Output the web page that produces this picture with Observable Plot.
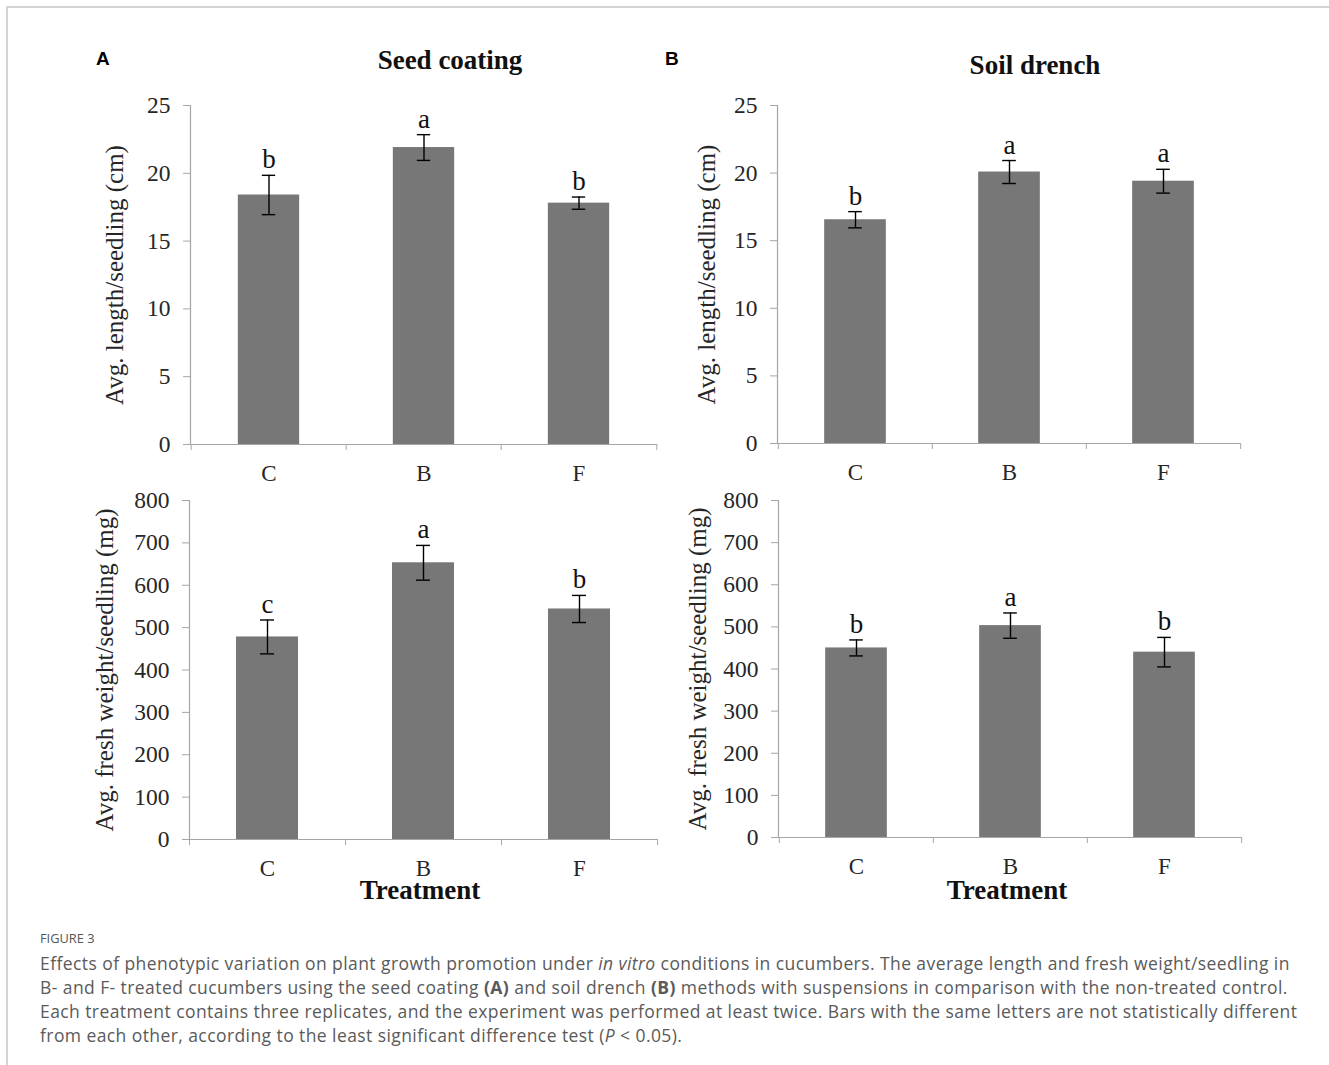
<!DOCTYPE html>
<html>
<head>
<meta charset="utf-8">
<script src="https://cdn.jsdelivr.net/npm/d3@7"></script>
<script src="https://cdn.jsdelivr.net/npm/@observablehq/plot@0.6"></script>
<style>
  html, body { margin: 0; padding: 0; background: #fff; }
  #page { position: relative; width: 1329px; height: 1065px; overflow: hidden; background: #fff; }
  .frame { position: absolute; left: 6px; top: 6px; right: -10px; bottom: -10px; border-top: 2px solid #d4d4d4; border-left: 2px solid #d4d4d4; }
  .panel { position: absolute; }
  .title { position: absolute; font-family: "Liberation Serif", serif; font-weight: bold; font-size: 27px; color: #111; transform: translateX(-50%); white-space: nowrap; }
  .xtitle { line-height: 27px; }
  .letter { position: absolute; font-family: "Liberation Sans", Arial, sans-serif; font-weight: bold; font-size: 19px; color: #000; }
  .figlabel { position: absolute; left: 40px; top: 929px; font-family: "Open Sans", sans-serif; font-size: 12.8px; color: #555; }
  .caption { position: absolute; left: 40px; top: 951px; font-family: "Open Sans", sans-serif; font-size: 17.5px; letter-spacing: 0.42px; line-height: 24px; color: #5a5a5a; white-space: nowrap; }
</style>
</head>
<body>
<div id="page">
  <div class="frame"></div>
  <div class="letter" style="left:96px; top:48px;">A</div>
  <div class="letter" style="left:665px; top:48px;">B</div>
  <div class="title" style="left:450px; top:45px;">Seed coating</div>
  <div class="title" style="left:1035px; top:50px;">Soil drench</div>
  <div class="title xtitle" style="left:420px; top:877px;">Treatment</div>
  <div class="title xtitle" style="left:1007px; top:877px;">Treatment</div>
  <div class="figlabel">FIGURE 3</div>
  <div class="caption">Effects of phenotypic variation on plant growth promotion under <i>in vitro</i> conditions in cucumbers. The average length and fresh weight/seedling in<br>B- and F- treated cucumbers using the seed coating <b>(A)</b> and soil drench <b>(B)</b> methods with suspensions in comparison with the non-treated control.<br>Each treatment contains three replicates, and the experiment was performed at least twice. Bars with the same letters are not statistically different<br>from each other, according to the least significant difference test (<i>P</i> &lt; 0.05).</div>
</div>
<script>
// ---- Data ----
const categories = ["C", "B", "F"];

const seedLength = [18.4, 21.9, 17.8];
const seedLengthErr = [1.45, 0.95, 0.45];
const seedLengthLetters = ["b", "a", "b"];

const seedWeight = [478, 653, 544];
const seedWeightErr = [40, 41, 32];
const seedWeightLetters = ["c", "a", "b"];

const soilLength = [16.55, 20.08, 19.4];
const soilLengthErr = [0.6, 0.85, 0.88];
const soilLengthLetters = ["b", "a", "a"];

const soilWeight = [450, 503, 440];
const soilWeightErr = [19, 30, 35];
const soilWeightLetters = ["b", "a", "b"];

const lengthTicks = [0, 5, 10, 15, 20, 25];
const weightTicks = [0, 100, 200, 300, 400, 500, 600, 700, 800];

const lengthLabel = "Avg. length/seedling (cm)";
const weightLabel = "Avg. fresh weight/seedling (mg)";

// ---- Styles ----
const axisColor = "#a6a6a6";
const textColor = "#262626";
const barColor = "#777777";
const serif = "'Liberation Serif', 'Times New Roman', serif";

function panel({values, errors, letters, ticks, label, left, top, width, height, margins, labelDx}) {
  const [mt, mr, mb, ml] = margins;
  const data = categories.map((c, i) => ({cat: c, v: values[i], e: errors[i], letter: letters[i]}));
  const bw = (width - ml - mr) / categories.length;
  const barInset = (bw - 62) / 2;
  const capInset = (bw - 14) / 2;
  const chart = Plot.plot({
    width, height,
    marginTop: mt, marginRight: mr, marginBottom: mb, marginLeft: ml,
    style: {fontFamily: serif, background: "transparent", color: textColor, overflow: "visible"},
    x: {type: "band", domain: categories, paddingInner: 0, paddingOuter: 0, axis: null},
    y: {domain: [ticks[0], ticks[ticks.length - 1]], axis: null},
    marks: [
      Plot.barY(data, {x: "cat", y: "v", fill: barColor, insetLeft: barInset, insetRight: barInset}),
      Plot.ruleY([ticks[0]], {stroke: axisColor, strokeWidth: 1.2}),
      Plot.frame({anchor: "left", stroke: axisColor, strokeWidth: 1.2}),
      Plot.axisY({ticks, tickSize: 7, tickPadding: 13, fontSize: 23.5, stroke: axisColor, fill: textColor, label: null, tickFormat: d => String(d)}),
      Plot.axisX({tickSize: 0, tickPadding: 20, fontSize: 23, fill: textColor, label: null}),
      Plot.axisX({tickSize: 6, dx: -bw / 2, text: null, stroke: axisColor, label: null}),
      Plot.axisX({ticks: [categories[categories.length - 1]], tickSize: 6, dx: bw / 2, text: null, stroke: axisColor, label: null}),
      Plot.ruleX(data, {x: "cat", y1: d => d.v - d.e, y2: d => d.v + d.e, stroke: "#000", strokeWidth: 1.4}),
      Plot.tickY(data, {x: "cat", y: d => d.v + d.e, stroke: "#000", strokeWidth: 1.4, insetLeft: capInset, insetRight: capInset}),
      Plot.tickY(data, {x: "cat", y: d => d.v - d.e, stroke: "#000", strokeWidth: 1.4, insetLeft: capInset, insetRight: capInset}),
      Plot.text(data, {x: "cat", y: d => d.v + d.e, text: "letter", dy: -7, lineAnchor: "bottom", fontSize: 27, fill: "#111"}),
      Plot.text([label], {frameAnchor: "left", textAnchor: "middle", lineAnchor: "middle", text: d => d, rotate: -90, dx: labelDx, fontSize: 25, fill: textColor})
    ]
  });
  const wrap = document.createElement("div");
  wrap.className = "panel";
  wrap.style.left = left + "px";
  wrap.style.top = top + "px";
  wrap.appendChild(chart);
  document.getElementById("page").appendChild(wrap);
}

panel({values: seedLength, errors: seedLengthErr, letters: seedLengthLetters, ticks: lengthTicks, label: lengthLabel,
  left: 60, top: 90, width: 620, height: 400, margins: [15, 23, 46, 130], labelDx: -76});
panel({values: soilLength, errors: soilLengthErr, letters: soilLengthLetters, ticks: lengthTicks, label: lengthLabel,
  left: 647, top: 90, width: 620, height: 400, margins: [15, 27, 47, 130], labelDx: -71});
panel({values: seedWeight, errors: seedWeightErr, letters: seedWeightLetters, ticks: weightTicks, label: weightLabel,
  left: 59, top: 485, width: 620, height: 400, margins: [15, 22, 46, 130], labelDx: -85});
panel({values: soilWeight, errors: soilWeightErr, letters: soilWeightLetters, ticks: weightTicks, label: weightLabel,
  left: 648, top: 485, width: 620, height: 400, margins: [15, 27, 48, 130], labelDx: -81});
</script>
</body>
</html>
